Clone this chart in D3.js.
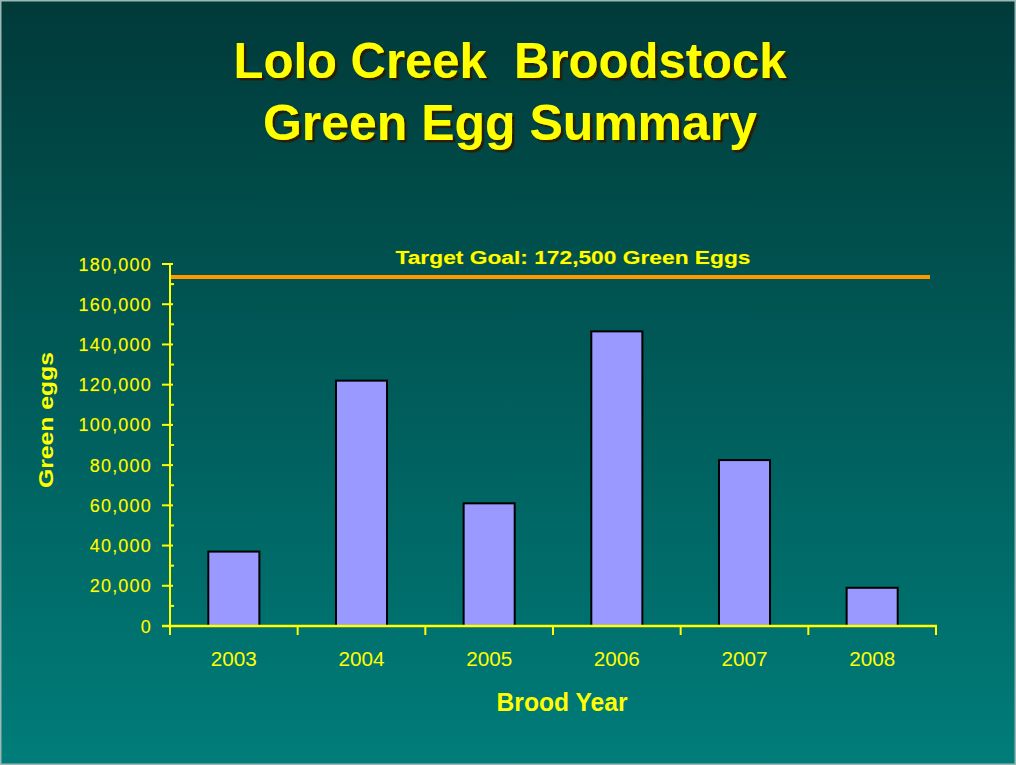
<!DOCTYPE html>
<html>
<head>
<meta charset="utf-8">
<script src="https://cdn.jsdelivr.net/npm/d3@7"></script>
<style>
  html, body { margin: 0; padding: 0; background: #fff; }
  svg { display: block; }
  text { font-family: "Liberation Sans", Arial, sans-serif; }
</style>
</head>
<body>
<svg id="chart" width="1016" height="765"></svg>
<script>
// ---- data ----
const years = ["2003", "2004", "2005", "2006", "2007", "2008"];
const greenEggs = [37000, 122000, 61000, 146500, 82500, 19000];
const targetGoal = 172500;
const yTickValues = [0, 20000, 40000, 60000, 80000, 100000, 120000, 140000, 160000, 180000];
const yMinorValues = [10000, 30000, 50000, 70000, 90000, 110000, 130000, 150000, 170000];
const titleLines = ["Lolo Creek  Broodstock", "Green Egg Summary"];
const targetLabel = "Target Goal: 172,500 Green Eggs";
const xTitle = "Brood Year";
const yTitle = "Green eggs";

const W = 1016, H = 765;
const svg = d3.select("#chart");
const defs = svg.append("defs");
const grad = defs.append("linearGradient").attr("id", "bg").attr("x1", 0).attr("y1", 0).attr("x2", 0).attr("y2", 1);
grad.append("stop").attr("offset", "0%").attr("stop-color", "#003a39");
grad.append("stop").attr("offset", "100%").attr("stop-color", "#007d7a");

const shadowFilter = defs.append("filter").attr("id", "tshadow")
  .attr("x", "-5%").attr("y", "-20%").attr("width", "110%").attr("height", "140%");
shadowFilter.append("feDropShadow")
  .attr("dx", 2.5).attr("dy", 2.5).attr("stdDeviation", 0.4)
  .attr("flood-color", "#2a1a00").attr("flood-opacity", 1);

svg.append("rect").attr("width", W).attr("height", H).attr("fill", "url(#bg)");
svg.append("rect").attr("x", 0.75).attr("y", 0.75).attr("width", W - 1.5).attr("height", H - 1.5)
  .attr("fill", "none").attr("stroke", "#9bb8b6").attr("stroke-width", 1.5);

const yellow = "#ffff00";

// ---- title ----
const titleSpec = [
  { text: titleLines[0], y: 78, len: 553 },
  { text: titleLines[1], y: 140, len: 494 }
];
svg.append("g").attr("filter", "url(#tshadow)")
  .selectAll("text").data(titleSpec).join("text")
  .attr("x", 510).attr("y", d => d.y)
  .attr("text-anchor", "middle")
  .attr("font-size", 50).attr("font-weight", "bold")
  .attr("fill", yellow)
  .style("white-space", "pre")
  .attr("textLength", d => d.len).attr("lengthAdjust", "spacingAndGlyphs")
  .text(d => d.text);

// ---- scales ----
const x = d3.scaleBand().domain(years).range([170, 936]).paddingInner(0.6).paddingOuter(0.3);
const y = d3.scaleLinear().domain([0, 180000]).range([626, 264]);

// ---- target line ----
svg.append("line")
  .attr("x1", 170).attr("x2", 930)
  .attr("y1", y(targetGoal) - 2).attr("y2", y(targetGoal) - 2)
  .attr("stroke", "#ff9900").attr("stroke-width", 4);

svg.append("text")
  .attr("x", 573).attr("y", 264)
  .attr("text-anchor", "middle")
  .attr("font-size", 18).attr("font-weight", "bold")
  .attr("fill", yellow)
  .attr("textLength", 355).attr("lengthAdjust", "spacingAndGlyphs")
  .style("paint-order", "stroke").attr("stroke", "#5a6a00").attr("stroke-width", 0.6)
  .text(targetLabel);

// ---- bars ----
svg.append("g").selectAll("rect")
  .data(years.map((yr, i) => ({ yr, v: greenEggs[i] })))
  .join("rect")
  .attr("x", d => x(d.yr))
  .attr("y", d => y(d.v))
  .attr("width", x.bandwidth())
  .attr("height", d => y(0) - y(d.v))
  .attr("fill", "#9999ff")
  .attr("stroke", "#000")
  .attr("stroke-width", 2);

// ---- y axis ----
const yAxis = svg.append("g");
yAxis.append("line").attr("x1", 170).attr("x2", 170).attr("y1", y(180000)).attr("y2", y(0) + 6)
  .attr("stroke", yellow).attr("stroke-width", 2);
yAxis.selectAll("line.major").data(yTickValues).join("line").attr("class", "major")
  .attr("x1", 162).attr("x2", 173).attr("y1", d => y(d)).attr("y2", d => y(d))
  .attr("stroke", yellow).attr("stroke-width", 2);
yAxis.selectAll("line.minor").data(yMinorValues).join("line").attr("class", "minor")
  .attr("x1", 170).attr("x2", 174).attr("y1", d => y(d)).attr("y2", d => y(d))
  .attr("stroke", yellow).attr("stroke-width", 2);
yAxis.selectAll("text").data(yTickValues).join("text")
  .attr("x", 152).attr("y", d => y(d) + 6.5)
  .attr("text-anchor", "end")
  .attr("font-size", 18).attr("letter-spacing", 1.2)
  .attr("fill", yellow)
  .style("paint-order", "stroke").attr("stroke", "#7a8a00").attr("stroke-width", 0.4)
  .text(d => d3.format(",")(d));

// ---- x axis ----
const xAxis = svg.append("g");
xAxis.append("line").attr("x1", 162).attr("x2", 937).attr("y1", y(0)).attr("y2", y(0))
  .attr("stroke", yellow).attr("stroke-width", 2.5);
const boundaries = d3.range(years.length + 1).map(i => x.range()[0] + i * x.step());
xAxis.selectAll("line.tick").data(boundaries).join("line").attr("class", "tick")
  .attr("x1", d => d).attr("x2", d => d).attr("y1", y(0)).attr("y2", y(0) + 9)
  .attr("stroke", yellow).attr("stroke-width", 2);
xAxis.selectAll("text").data(years).join("text")
  .attr("x", d => x(d) + x.bandwidth() / 2).attr("y", 666)
  .attr("text-anchor", "middle")
  .attr("font-size", 20)
  .attr("fill", yellow)
  .attr("textLength", 46).attr("lengthAdjust", "spacingAndGlyphs")
  .text(d => d);

// ---- axis titles ----
svg.append("text")
  .attr("x", 562).attr("y", 711)
  .attr("text-anchor", "middle")
  .attr("font-size", 25).attr("font-weight", "bold")
  .attr("fill", yellow)
  .attr("textLength", 131).attr("lengthAdjust", "spacingAndGlyphs")
  .text(xTitle);

svg.append("text")
  .attr("transform", "translate(53,420) rotate(-90)")
  .attr("text-anchor", "middle")
  .attr("font-size", 21).attr("font-weight", "bold")
  .attr("fill", yellow)
  .attr("textLength", 136).attr("lengthAdjust", "spacingAndGlyphs")
  .text(yTitle);
</script>
</body>
</html>
